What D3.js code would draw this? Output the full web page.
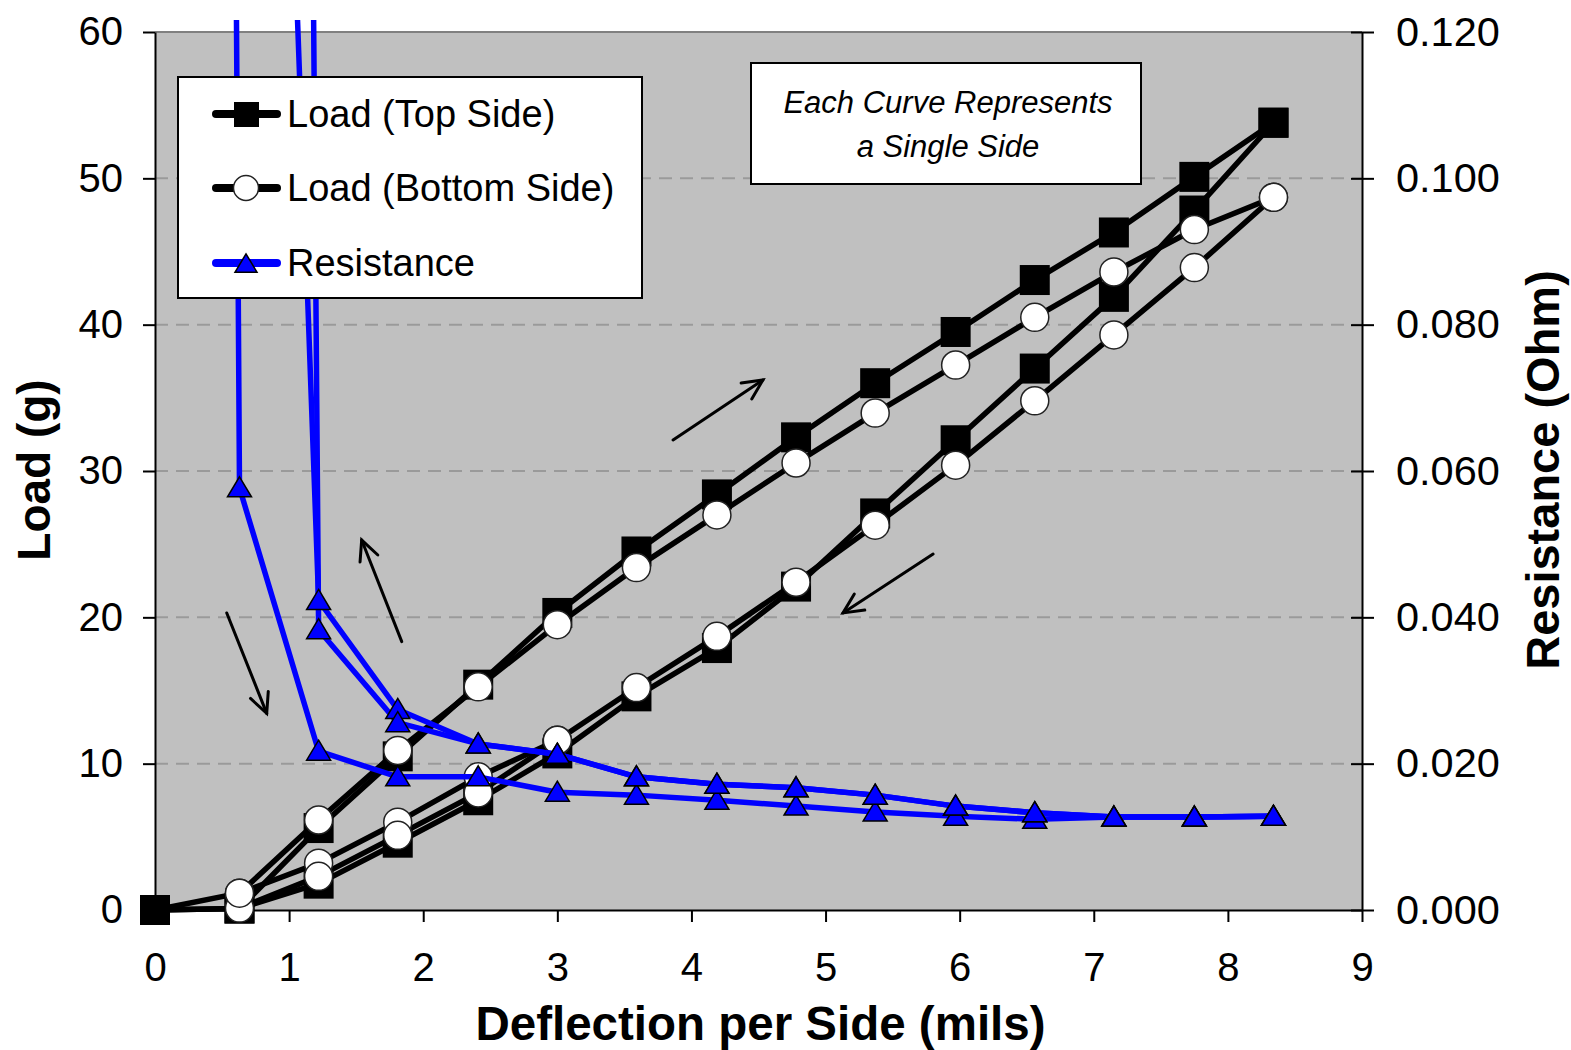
<!DOCTYPE html>
<html>
<head>
<meta charset="utf-8">
<script src="https://cdn.jsdelivr.net/npm/d3@7"></script>
<style>
  body { margin: 0; background: #fff; }
  svg text { font-family: "Liberation Sans", Arial, sans-serif; }
</style>
</head>
<body>
<div id="chart"></div>
<script>
// deflection per side (mils), shared by every curve
var deflection = [0, 0.63, 1.22, 1.81, 2.41, 3.00, 3.59, 4.19, 4.78, 5.37, 5.97, 6.56, 7.15, 7.75, 8.34];

// load (g)
var topLoad      = [0, 0.1, 5.6, 10.5, 15.4, 20.3, 24.5, 28.4, 32.3, 36.0, 39.5, 43.05, 46.3, 50.1, 53.8];
var topUnload    = [0, 0.1, 1.8, 4.6, 7.5, 10.7, 14.6, 17.9, 22.1, 27.1, 32.1, 37.0, 41.9, 47.8, 53.8];
var bottomLoad   = [null, 1.15, 6.15, 10.9, 15.25, 19.5, 23.4, 27.0, 30.55, 33.96, 37.24, 40.5, 43.6, 46.5, 48.7];
var bottomUnload = [null, 0.13, 2.3, 5.1, 8.0, 11.6, 15.2, 18.7, 22.4, 26.3, 30.4, 34.8, 39.3, 43.9, 48.7];
var bottomUnload2 = [0, 1.15, 3.2, 6.0, 9.1, 11.6, null, null, null, null, null, null, null, null, null];

// resistance (Ohm)
var resLoad    = [1.85, 0.0577, 0.0217, 0.0182, 0.0182, 0.0161, 0.0157, 0.0150, 0.0142, 0.0134, 0.0128, 0.0124, 0.0127, 0.0127, 0.0128];
var resUnloadA = [null, 0.34, 0.0423, 0.0274, 0.0227, 0.0213, 0.0182, 0.0172, 0.0167, 0.0157, 0.0142, 0.0133, 0.0127, 0.0127, 0.0128];
var resUnloadB = [null, 1.36, 0.0383, 0.0256, 0.0227, 0.0213, 0.0182, 0.0172, 0.0167, 0.0157, 0.0142, 0.0133, 0.0127, 0.0127, 0.0128];

var xTicks = [0, 1, 2, 3, 4, 5, 6, 7, 8, 9];
var loadTicks = [0, 10, 20, 30, 40, 50, 60];
var resTicks = [0, 0.02, 0.04, 0.06, 0.08, 0.10, 0.12];

// direction arrows, in data units (deflection, load)
var arrows = [
  [0.535, 20.3, 0.833, 13.44],
  [1.840, 18.34, 1.541, 25.28],
  [3.863, 32.12, 4.533, 36.22],
  [5.802, 24.33, 5.130, 20.3]
];

var legendNames = ['Load (Top Side)', 'Load (Bottom Side)', 'Resistance'];
var noteLines = ['Each Curve Represents', 'a Single Side'];

var W = 1571, H = 1050;
var pLeft = 155, pRight = 1362, pTop = 32, pBottom = 910;

var svg = d3.select('#chart').append('svg')
  .attr('width', W).attr('height', H);

var x = d3.scaleLinear().domain([0, 9]).range([pLeft, pRight]);
var y = d3.scaleLinear().domain([0, 60]).range([pBottom, pTop]);
var y2 = d3.scaleLinear().domain([0, 0.12]).range([pBottom, pTop]);

svg.append('defs').append('clipPath').attr('id', 'clip')
  .append('rect').attr('x', pLeft).attr('y', 20)
  .attr('width', pRight - pLeft).attr('height', pBottom - 20);

// plot area
svg.append('rect')
  .attr('x', pLeft).attr('y', pTop)
  .attr('width', pRight - pLeft).attr('height', pBottom - pTop)
  .attr('fill', '#c0c0c0');
svg.append('line')
  .attr('x1', pLeft).attr('x2', pRight).attr('y1', pTop).attr('y2', pTop)
  .attr('stroke', '#808080').attr('stroke-width', 2);

svg.append('g').selectAll('line')
  .data(loadTicks.filter(function(d) { return d > 0 && d < 60; }))
  .enter().append('line')
  .attr('x1', pLeft).attr('x2', pRight)
  .attr('y1', function(d) { return y(d); })
  .attr('y2', function(d) { return y(d); })
  .attr('stroke', '#9a9a9a').attr('stroke-width', 2)
  .attr('stroke-dasharray', '13,8');

// axes
function styleAxis(g) {
  g.select('.domain').attr('stroke', '#000').attr('stroke-width', 2);
  g.selectAll('.tick line').attr('stroke', '#000').attr('stroke-width', 2);
  g.selectAll('.tick text').attr('font-size', 40).attr('fill', '#000')
    .attr('font-family', '"Liberation Sans", Arial, sans-serif');
}

svg.append('g')
  .attr('transform', 'translate(0,' + pBottom + ')')
  .call(d3.axisBottom(x).tickValues(xTicks).tickFormat(d3.format('d'))
    .tickSize(12).tickSizeOuter(0).tickPadding(31))
  .call(styleAxis);

svg.append('g')
  .attr('transform', 'translate(' + pLeft + ',0)')
  .call(d3.axisLeft(y).tickValues(loadTicks).tickFormat(d3.format('d'))
    .tickSize(12).tickSizeOuter(0).tickPadding(20))
  .call(styleAxis);

var rightAxis = svg.append('g')
  .attr('transform', 'translate(' + pRight + ',0)')
  .call(d3.axisRight(y2).tickValues(resTicks).tickFormat(d3.format('.3f'))
    .tickSize(12).tickSizeOuter(0).tickPadding(22))
  .call(styleAxis);
rightAxis.selectAll('.tick line').attr('x1', -11);
rightAxis.selectAll('.tick text').attr('font-size', 41.5);

// axis titles
svg.append('text')
  .attr('x', (pLeft + pRight) / 2 + 2).attr('y', 1040)
  .attr('text-anchor', 'middle')
  .attr('font-size', 47.5).attr('font-weight', 'bold')
  .text('Deflection per Side (mils)');

svg.append('text')
  .attr('transform', 'translate(50,470) rotate(-90)')
  .attr('text-anchor', 'middle')
  .attr('font-size', 46).attr('font-weight', 'bold')
  .text('Load (g)');

svg.append('text')
  .attr('transform', 'translate(1559,470) rotate(-90)')
  .attr('text-anchor', 'middle')
  .attr('font-size', 47).attr('font-weight', 'bold')
  .text('Resistance (Ohm)');

// helpers
function points(values) {
  return deflection.map(function(d, i) { return { x: d, v: values[i] }; })
    .filter(function(d) { return d.v != null; });
}

function drawLine(values, scale, color, clip) {
  var line = d3.line()
    .x(function(d) { return x(d.x); })
    .y(function(d) { return scale(d.v); });
  var p = svg.append('path')
    .datum(points(values))
    .attr('d', line)
    .attr('fill', 'none')
    .attr('stroke', color)
    .attr('stroke-width', 5.5)
    .attr('stroke-linejoin', 'round');
  if (clip) p.attr('clip-path', 'url(#clip)');
}

function drawSquares(values, size) {
  svg.append('g').selectAll('rect')
    .data(points(values)).enter().append('rect')
    .attr('x', function(d) { return x(d.x) - size / 2; })
    .attr('y', function(d) { return y(d.v) - size / 2; })
    .attr('width', size).attr('height', size)
    .attr('fill', '#000');
}

function drawCircles(values, r) {
  svg.append('g').selectAll('circle')
    .data(points(values)).enter().append('circle')
    .attr('cx', function(d) { return x(d.x); })
    .attr('cy', function(d) { return y(d.v); })
    .attr('r', r)
    .attr('fill', '#fff').attr('stroke', '#222').attr('stroke-width', 1.5);
}

function triPath(cx, cy, s) {
  return 'M' + cx + ',' + (cy - s * 0.92) +
    'L' + (cx + s) + ',' + (cy + s * 0.75) +
    'L' + (cx - s) + ',' + (cy + s * 0.75) + 'Z';
}

function drawTriangles(values) {
  svg.append('g').selectAll('path')
    .data(points(values).filter(function(d) { return d.v <= 0.12; }))
    .enter().append('path')
    .attr('d', function(d) { return triPath(x(d.x), y2(d.v), 12); })
    .attr('fill', '#0000ff').attr('stroke', '#000').attr('stroke-width', 1.5);
}

// load curves
drawLine(topLoad, y, '#000');
drawLine(topUnload, y, '#000');
drawLine(bottomLoad, y, '#000');
drawLine(bottomUnload, y, '#000');
drawLine(bottomUnload2, y, '#000');

drawSquares(topUnload, 30);
drawSquares(topLoad, 30);
drawCircles(bottomUnload2.map(function(v, i) { return i === 0 ? null : v; }), 14);
drawCircles(bottomUnload, 14);
drawCircles(bottomLoad, 14);

// resistance curves
drawLine(resLoad, y2, '#0000ff', true);
drawLine(resUnloadA, y2, '#0000ff', true);
drawLine(resUnloadB, y2, '#0000ff', true);
drawTriangles(resLoad);
drawTriangles(resUnloadA);
drawTriangles(resUnloadB);

// arrows
var ag = svg.append('g').attr('stroke', '#000').attr('stroke-width', 3)
  .attr('fill', 'none').attr('stroke-linecap', 'round');
arrows.forEach(function(a) {
  var x1 = x(a[0]), y1 = y(a[1]), x2 = x(a[2]), y2p = y(a[3]);
  var ang = Math.atan2(y2p - y1, x2 - x1);
  var len = 22, spread = 0.45;
  ag.append('line').attr('x1', x1).attr('y1', y1).attr('x2', x2).attr('y2', y2p);
  ag.append('path').attr('d',
    'M' + (x2 - len * Math.cos(ang - spread)) + ',' + (y2p - len * Math.sin(ang - spread)) +
    'L' + x2 + ',' + y2p +
    'L' + (x2 - len * Math.cos(ang + spread)) + ',' + (y2p - len * Math.sin(ang + spread)));
});

// legend
var lg = svg.append('g');
lg.append('rect')
  .attr('x', 178).attr('y', 77).attr('width', 464).attr('height', 221)
  .attr('fill', '#fff').attr('stroke', '#000').attr('stroke-width', 2);

var rows = lg.selectAll('g.row').data(legendNames).enter().append('g')
  .attr('transform', function(d, i) { return 'translate(0,' + [114, 188, 263][i] + ')'; });
rows.append('line')
  .attr('x1', 216).attr('x2', 277)
  .attr('stroke', function(d, i) { return i === 2 ? '#0000ff' : '#000'; })
  .attr('stroke-width', 8).attr('stroke-linecap', 'round');
rows.append('text')
  .attr('x', 287).attr('y', 13)
  .attr('font-size', 38).attr('fill', '#000')
  .text(function(d) { return d; });

lg.append('rect').attr('x', 234).attr('y', 102).attr('width', 25).attr('height', 25).attr('fill', '#000');
lg.append('circle').attr('cx', 246).attr('cy', 188).attr('r', 12.5)
  .attr('fill', '#fff').attr('stroke', '#222').attr('stroke-width', 1.5);
lg.append('path').attr('d', triPath(246, 264, 11))
  .attr('fill', '#0000ff').attr('stroke', '#000').attr('stroke-width', 1.5);

// note box
svg.append('rect')
  .attr('x', 751).attr('y', 63).attr('width', 390).attr('height', 121)
  .attr('fill', '#fff').attr('stroke', '#000').attr('stroke-width', 2);
svg.selectAll('text.note').data(noteLines).enter().append('text')
  .attr('class', 'note')
  .attr('x', 948).attr('y', function(d, i) { return [113, 157][i]; })
  .attr('text-anchor', 'middle')
  .attr('font-family', 'Lato, "Open Sans", sans-serif')
  .attr('font-style', 'italic')
  .attr('font-size', 31)
  .text(function(d) { return d; });
</script>
</body>
</html>
